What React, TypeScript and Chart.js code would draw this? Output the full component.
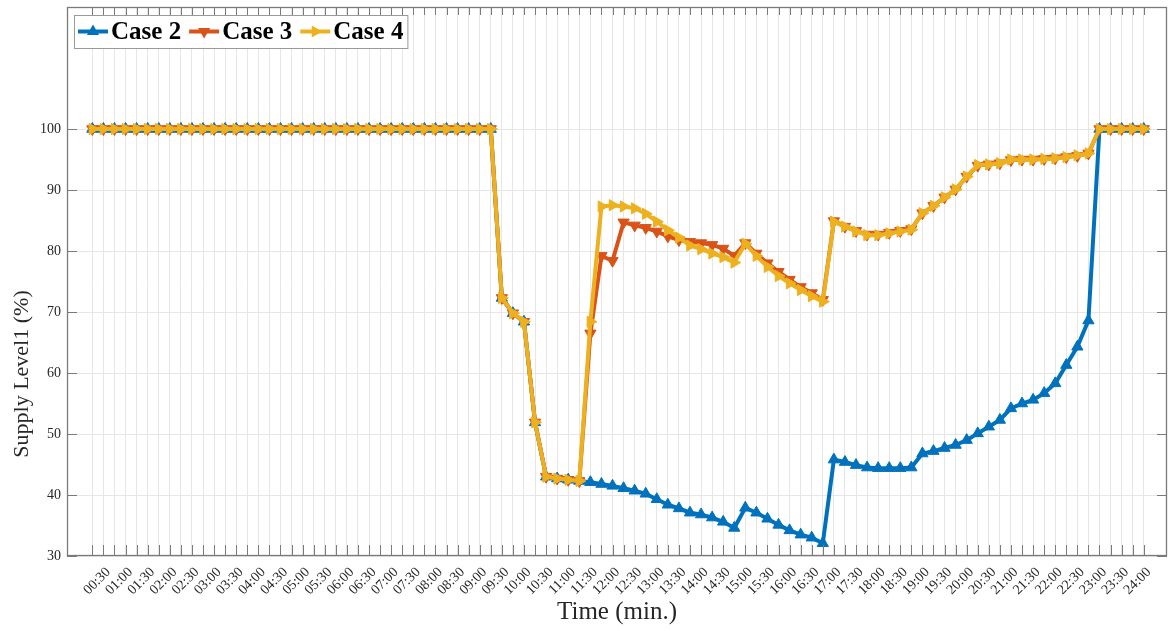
import React, { useEffect, useRef } from 'react';
import { Chart, registerables } from 'chart.js';

Chart.register(...registerables);

// Tick labels shown on every other 15-minute slot (slots run 00:15 ... 24:00)
const tickLabels = [
  '00:30', '01:00', '01:30', '02:00', '02:30', '03:00', '03:30', '04:00',
  '04:30', '05:00', '05:30', '06:00', '06:30', '07:00', '07:30', '08:00',
  '08:30', '09:00', '09:30', '10:00', '10:30', '11:00', '11:30', '12:00',
  '12:30', '13:00', '13:30', '14:00', '14:30', '15:00', '15:30', '16:00',
  '16:30', '17:00', '17:30', '18:00', '18:30', '19:00', '19:30', '20:00',
  '20:30', '21:00', '21:30', '22:00', '22:30', '23:00', '23:30', '24:00',
];

const yTicks = [30, 40, 50, 60, 70, 80, 90, 100];

const case2 = [
  100, 100, 100, 100, 100, 100, 100, 100, 100, 100, 100, 100, 100, 100, 100, 100,
  100, 100, 100, 100, 100, 100, 100, 100, 100, 100, 100, 100, 100, 100, 100, 100,
  100, 100, 100, 100, 100,
  72.3, 69.8, 68.4, 51.9, 43.0, 42.7, 42.5, 42.3, 42.1, 41.8, 41.5, 41.1, 40.7, 40.2,
  39.3, 38.4, 37.8, 37.1, 36.8, 36.3, 35.6, 34.6, 37.9, 37.1, 36.1, 35.1, 34.2, 33.5,
  33.0, 32.1, 45.8, 45.4, 44.9, 44.5, 44.4, 44.4, 44.4, 44.5, 46.8, 47.2, 47.7, 48.2,
  49.0, 50.1, 51.2, 52.3, 54.2, 55.0, 55.6, 56.7, 58.3, 61.3, 64.3, 68.6,
  100, 100, 100, 100, 100,
];

const case3 = [
  100, 100, 100, 100, 100, 100, 100, 100, 100, 100, 100, 100, 100, 100, 100, 100,
  100, 100, 100, 100, 100, 100, 100, 100, 100, 100, 100, 100, 100, 100, 100, 100,
  100, 100, 100, 100, 100,
  72.3, 69.8, 68.4, 51.9, 43.0, 42.7, 42.5, 42.3, 66.5, 79.2, 78.4, 84.7, 84.2, 83.8,
  83.2, 82.4, 81.8, 81.5, 81.3, 81.0, 80.4, 79.2, 81.3, 79.6, 78.0, 76.6, 75.3, 74.1,
  73.1, 72.0, 84.9, 84.0, 83.3, 82.7, 82.7, 83.0, 83.3, 83.6, 86.2, 87.4, 88.8, 90.1,
  92.2, 94.0, 94.2, 94.4, 94.9, 95.0, 95.0, 95.1, 95.2, 95.4, 95.6, 96.0,
  100, 100, 100, 100, 100,
];

const case4 = [
  100, 100, 100, 100, 100, 100, 100, 100, 100, 100, 100, 100, 100, 100, 100, 100,
  100, 100, 100, 100, 100, 100, 100, 100, 100, 100, 100, 100, 100, 100, 100, 100,
  100, 100, 100, 100, 100,
  72.3, 69.8, 68.4, 51.9, 43.0, 42.7, 42.5, 42.3, 68.4, 87.3, 87.5, 87.3, 87.0, 86.1,
  84.8, 83.4, 82.2, 80.9, 80.3, 79.6, 79.0, 78.1, 81.2, 79.2, 77.4, 75.9, 74.7, 73.6,
  72.6, 71.7, 84.8, 84.0, 83.2, 82.6, 82.6, 82.9, 83.2, 83.5, 86.2, 87.4, 88.8, 90.1,
  92.2, 94.1, 94.2, 94.4, 95.0, 95.0, 95.0, 95.1, 95.2, 95.4, 95.7, 96.0,
  100, 100, 100, 100, 100,
];

const seriesNames = ['Case 2', 'Case 3', 'Case 4'];
const seriesColors = ['#0072BD', '#D95319', '#EDB120'];
const seriesRotation = [0, 180, 90];

const FONT = '"Liberation Serif", "Times New Roman", Times, serif';
const TEXT = '#262626';
const AXIS = '#7a7a7a';

function drawTri(ctx: CanvasRenderingContext2D, x: number, y: number, r: number, rotDeg: number, color: string) {
  let rad = (rotDeg * Math.PI) / 180;
  ctx.beginPath();
  for (let k = 0; k < 3; k++) {
    const px = x + Math.sin(rad) * r;
    const py = y - Math.cos(rad) * r;
    if (k === 0) ctx.moveTo(px, py);
    else ctx.lineTo(px, py);
    rad += (2 * Math.PI) / 3;
  }
  ctx.closePath();
  ctx.fillStyle = color;
  ctx.fill();
}

const framePlugin = {
  id: 'matlabFrame',
  afterDraw(chart: any) {
    const { ctx, chartArea } = chart;
    const { left, right, top, bottom } = chartArea;
    const xs = chart.scales.x;
    const ys = chart.scales.y;
    ctx.save();
    ctx.strokeStyle = AXIS;
    ctx.lineWidth = 1;
    ctx.beginPath();
    for (let i = 0; i < case2.length; i++) {
      const px = Math.round(xs.getPixelForValue(i)) + 0.5;
      ctx.moveTo(px, bottom);
      ctx.lineTo(px, bottom - 11);
      ctx.moveTo(px, top);
      ctx.lineTo(px, top + 8);
    }
    for (const v of yTicks) {
      const py = Math.round(ys.getPixelForValue(v)) + 0.5;
      ctx.moveTo(left, py);
      ctx.lineTo(left + 10, py);
      ctx.moveTo(right, py);
      ctx.lineTo(right - 10, py);
    }
    ctx.stroke();
    ctx.lineWidth = 1.3;
    ctx.strokeRect(left + 0.5, top + 0.5, right - left - 1, bottom - top - 1);

    // y title
    ctx.fillStyle = TEXT;
    ctx.font = `22px ${FONT}`;
    ctx.textAlign = 'center';
    ctx.textBaseline = 'middle';
    ctx.translate(22, 374);
    ctx.rotate(-Math.PI / 2);
    ctx.fillText('Supply Level1 (%)', 0, 0);
    ctx.restore();

    // legend
    ctx.save();
    const lx = 74, ly = 15, lh = 33;
    ctx.font = `bold 25px ${FONT}`;
    const ds = chart.data.datasets;
    const order = [0, 1, 2];
    const widths = order.map((k) => ctx.measureText(ds[k].label).width);
    let total = 4;
    widths.forEach((w) => { total += 30 + 3 + w + 8; });
    total -= 4;
    ctx.fillStyle = '#ffffff';
    ctx.fillRect(lx, ly, total, lh);
    ctx.strokeStyle = '#9a9a9a';
    ctx.lineWidth = 1;
    ctx.strokeRect(lx + 0.5, ly + 0.5, total, lh);
    let cx = lx + 4;
    const cy = ly + lh / 2;
    order.forEach((k, j) => {
      const d = ds[k];
      ctx.strokeStyle = d.borderColor;
      ctx.lineWidth = 4;
      ctx.beginPath();
      ctx.moveTo(cx, cy);
      ctx.lineTo(cx + 30, cy);
      ctx.stroke();
      drawTri(ctx, cx + 15, cy, 7, seriesRotation[k], d.borderColor);
      ctx.fillStyle = '#000000';
      ctx.textAlign = 'left';
      ctx.textBaseline = 'middle';
      ctx.fillText(d.label, cx + 33, cy + 1);
      cx += 30 + 3 + widths[j] + 8;
    });
    ctx.restore();
  },
};

export default function App() {
  const ref = useRef<HTMLCanvasElement | null>(null);

  useEffect(() => {
    if (!ref.current) return;
    const series = [case2, case3, case4];
    const datasets = series.map((arr, k) => ({
      label: seriesNames[k],
      data: arr.map((v, i) => ({ x: i, y: v })),
      borderColor: seriesColors[k],
      backgroundColor: seriesColors[k],
      pointBackgroundColor: seriesColors[k],
      pointBorderColor: seriesColors[k],
      borderWidth: 4,
      pointStyle: 'triangle' as const,
      pointRotation: seriesRotation[k],
      pointRadius: 6.5,
      pointBorderWidth: 1,
      tension: 0,
      order: 2 - k,
    }));

    const chart = new Chart(ref.current, {
      type: 'line',
      data: { datasets },
      options: {
        animation: false,
        responsive: false,
        devicePixelRatio: 1,
        layout: { autoPadding: false, padding: { top: 7, right: 4, left: 0, bottom: 0 } },
        plugins: { legend: { display: false }, tooltip: { enabled: false } },
        scales: {
          x: {
            type: 'linear',
            min: -2.29,
            max: 97.1,
            afterBuildTicks: (scale: any) => {
              scale.ticks = case2.map((_, i) => ({ value: i }));
            },
            afterFit: (scale: any) => {
              scale.height = 75;
              scale.paddingLeft = 0;
              scale.paddingRight = 0;
            },
            grid: { color: '#e6e6e6', lineWidth: 1, drawTicks: false },
            border: { display: false },
            ticks: {
              autoSkip: false,
              minRotation: 45,
              maxRotation: 45,
              padding: 8,
              labelOffset: 5,
              color: TEXT,
              font: { family: FONT, size: 14 },
              callback: (value: any) => {
                const i = Math.round(Number(value));
                return i % 2 === 1 ? tickLabels[(i - 1) / 2] : '';
              },
            },
            title: {
              display: true,
              text: 'Time (min.)',
              color: TEXT,
              font: { family: FONT, size: 25 },
              padding: { top: 0, bottom: 4 },
            },
          },
          y: {
            type: 'linear',
            min: 30,
            max: 120,
            afterBuildTicks: (scale: any) => {
              scale.ticks = yTicks.map((v) => ({ value: v }));
            },
            afterFit: (scale: any) => {
              scale.width = 67;
              scale.paddingTop = 0;
              scale.paddingBottom = 0;
            },
            grid: { color: '#e6e6e6', lineWidth: 1, drawTicks: false },
            border: { display: false },
            ticks: {
              padding: 6,
              color: TEXT,
              font: { family: FONT, size: 14 },
            },
          },
        },
      },
      plugins: [framePlugin],
    });
    return () => chart.destroy();
  }, []);

  return (
    <div style={{ position: 'absolute', left: 0, top: 0, width: 1171, height: 631, background: '#fff' }}>
      <canvas ref={ref} width={1171} height={631} style={{ display: 'block' }} />
    </div>
  );
}
